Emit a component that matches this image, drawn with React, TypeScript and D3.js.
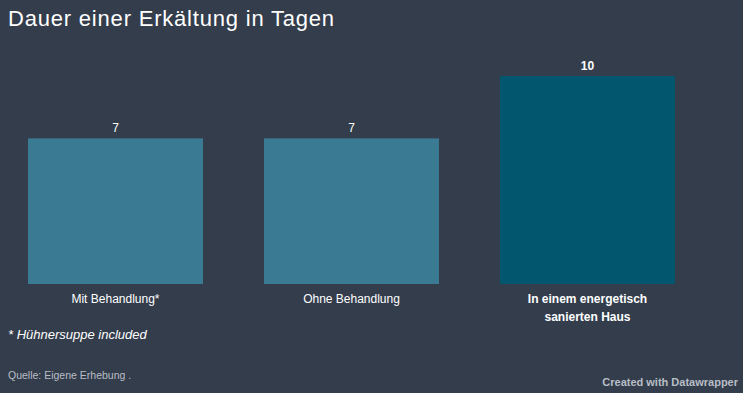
import { useEffect, useRef } from 'react';
import * as d3 from 'd3';

const categories = ['Mit Behandlung*', 'Ohne Behandlung', 'In einem energetisch sanierten Haus'];
const labelLines = [['Mit Behandlung*'], ['Ohne Behandlung'], ['In einem energetisch', 'sanierten Haus']];
const values = [7, 7, 10];
const highlighted = [false, false, true];

const title = 'Dauer einer Erkältung in Tagen';
const footnote = '* Hühnersuppe included';
const source = 'Quelle: Eigene Erhebung .';
const credit = 'Created with Datawrapper';

export default function App() {
  const svgRef = useRef<SVGSVGElement>(null);

  useEffect(() => {
    if (!svgRef.current) return;
    const width = 743;
    const height = 393;
    const svg = d3.select(svgRef.current);
    svg.selectAll('*').remove();

    svg.append('rect')
      .attr('width', width)
      .attr('height', height)
      .attr('fill', '#333d4c');

    svg.append('text')
      .attr('x', 8)
      .attr('y', 26)
      .attr('fill', '#ffffff')
      .attr('font-size', 22)
      .attr('letter-spacing', 0.8)
      .text(title);

    const x = d3.scaleBand<string>()
      .domain(categories)
      .range([28, 675])
      .paddingInner(0.2585)
      .paddingOuter(0);

    const y = d3.scaleLinear()
      .domain([0, 10])
      .range([284, 76]);

    const g = svg.append('g');

    g.selectAll('rect.bar')
      .data(categories)
      .join('rect')
      .attr('class', 'bar')
      .attr('x', d => x(d) ?? 0)
      .attr('width', x.bandwidth())
      .attr('y', (d, i) => y(values[i]))
      .attr('height', (d, i) => y(0) - y(values[i]))
      .attr('fill', (d, i) => highlighted[i] ? '#02566e' : '#3a7b93');

    // value labels
    g.selectAll('text.value')
      .data(categories)
      .join('text')
      .attr('class', 'value')
      .attr('x', d => (x(d) ?? 0) + x.bandwidth() / 2)
      .attr('y', (d, i) => y(values[i]) - 6)
      .attr('text-anchor', 'middle')
      .attr('fill', '#ffffff')
      .attr('font-size', 12)
      .attr('font-weight', (d, i) => highlighted[i] ? 'bold' : 'normal')
      .text((d, i) => values[i]);

    // category labels
    const labels = g.selectAll('text.cat')
      .data(categories)
      .join('text')
      .attr('class', 'cat')
      .attr('x', d => (x(d) ?? 0) + x.bandwidth() / 2)
      .attr('y', 303)
      .attr('text-anchor', 'middle')
      .attr('fill', '#ffffff')
      .attr('font-size', 12)
      .attr('font-weight', (d, i) => highlighted[i] ? 'bold' : 'normal');

    labels.each(function (d, i) {
      const t = d3.select(this);
      labelLines[i].forEach((line, j) => {
        t.append('tspan')
          .attr('x', (x(d) ?? 0) + x.bandwidth() / 2)
          .attr('dy', j === 0 ? 0 : 18)
          .text(line);
      });
    });

    svg.append('text')
      .attr('x', 8)
      .attr('y', 339)
      .attr('fill', '#ffffff')
      .attr('font-size', 13)
      .attr('font-style', 'italic')
      .text(footnote);

    svg.append('text')
      .attr('x', 8)
      .attr('y', 379)
      .attr('fill', '#b8bdc6')
      .attr('font-size', 10.5)
      .text(source);

    svg.append('text')
      .attr('x', 738)
      .attr('y', 386)
      .attr('text-anchor', 'end')
      .attr('fill', '#b8bdc6')
      .attr('font-size', 11)
      .attr('font-weight', 'bold')
      .text(credit);
  }, []);

  return (
    <svg
      ref={svgRef}
      width={743}
      height={393}
      style={{ position: 'absolute', left: 0, top: 0, fontFamily: '"Liberation Sans", Arial, sans-serif' }}
    />
  );
}
